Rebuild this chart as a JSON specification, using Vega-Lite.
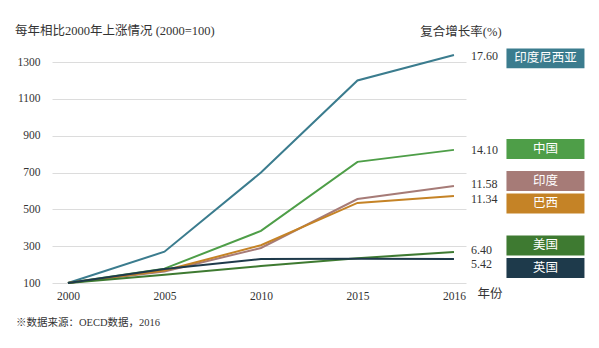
{
  "$schema": "https://vega.github.io/schema/vega-lite/v6.json",
  "width": 414,
  "height": 232,
  "autosize": "none",
  "padding": {"left": 52, "top": 51, "right": 133, "bottom": 65},
  "background": "white",
  "config": {
    "view": {"stroke": null},
    "font": "Liberation Serif, Noto Sans CJK SC",
    "text": {"font": "Liberation Serif, Noto Sans CJK SC"}
  },
  "title": {
    "text": "每年相比2000年上涨情况 (2000=100)",
    "anchor": "start",
    "frame": "group",
    "dx": -37,
    "offset": -11,
    "fontSize": 12.5,
    "fontWeight": "normal",
    "color": "#333333",
    "font": "Liberation Serif, Noto Sans CJK SC"
  },
  "datasets": {
    "series": [
      {"country": "印度尼西亚", "year": 2000, "index": 100},
      {"country": "印度尼西亚", "year": 2005, "index": 270},
      {"country": "印度尼西亚", "year": 2010, "index": 700},
      {"country": "印度尼西亚", "year": 2015, "index": 1200},
      {"country": "印度尼西亚", "year": 2016, "index": 1338},
      {"country": "中国", "year": 2000, "index": 100},
      {"country": "中国", "year": 2005, "index": 178},
      {"country": "中国", "year": 2010, "index": 383},
      {"country": "中国", "year": 2015, "index": 758},
      {"country": "中国", "year": 2016, "index": 823},
      {"country": "印度", "year": 2000, "index": 100},
      {"country": "印度", "year": 2005, "index": 163},
      {"country": "印度", "year": 2010, "index": 290},
      {"country": "印度", "year": 2015, "index": 556},
      {"country": "印度", "year": 2016, "index": 627},
      {"country": "巴西", "year": 2000, "index": 100},
      {"country": "巴西", "year": 2005, "index": 168},
      {"country": "巴西", "year": 2010, "index": 305},
      {"country": "巴西", "year": 2015, "index": 535},
      {"country": "巴西", "year": 2016, "index": 573},
      {"country": "美国", "year": 2000, "index": 100},
      {"country": "美国", "year": 2005, "index": 145},
      {"country": "美国", "year": 2010, "index": 192},
      {"country": "美国", "year": 2015, "index": 235},
      {"country": "美国", "year": 2016, "index": 268},
      {"country": "英国", "year": 2000, "index": 100},
      {"country": "英国", "year": 2005, "index": 176},
      {"country": "英国", "year": 2010, "index": 230},
      {"country": "英国", "year": 2015, "index": 232},
      {"country": "英国", "year": 2016, "index": 230}
    ],
    "rates": [
      {"country": "印度尼西亚", "rate": "17.60", "rateAt": 1331, "boxAt": 1320},
      {"country": "中国", "rate": "14.10", "rateAt": 823, "boxAt": 828},
      {"country": "印度", "rate": "11.58", "rateAt": 638, "boxAt": 654},
      {"country": "巴西", "rate": "11.34", "rateAt": 557, "boxAt": 532},
      {"country": "美国", "rate": "6.40", "rateAt": 279, "boxAt": 304},
      {"country": "英国", "rate": "5.42", "rateAt": 203, "boxAt": 182}
    ]
  },
  "encoding": {
    "x": {
      "type": "ordinal",
      "scale": {"type": "point", "domain": [2000, 2005, 2010, 2015, 2016], "padding": 0.145, "align": 0.57},
      "axis": {
        "title": "年份",
        "titleX": 425,
        "titleY": 10,
        "titleAlign": "left",
        "titleBaseline": "middle",
        "titleFontSize": 12.5,
        "titleFontWeight": "normal",
        "titleColor": "#333333",
        "titleFont": "Liberation Serif, Noto Sans CJK SC",
        "labelAngle": 0,
        "labelFontSize": 11.5,
        "labelColor": "#333333",
        "labelFont": "Liberation Serif",
        "labelPadding": 7,
        "domain": false,
        "ticks": false,
        "grid": false
      }
    },
    "y": {
      "type": "quantitative",
      "scale": {"domain": [100, 1360], "nice": false, "zero": false},
      "axis": {
        "title": null,
        "format": "d",
        "values": [100, 300, 500, 700, 900, 1100, 1300],
        "labelFontSize": 11.5,
        "labelColor": "#333333",
        "labelFont": "Liberation Serif",
        "labelPadding": 12,
        "domain": false,
        "ticks": false,
        "grid": true,
        "gridColor": "#dcdcdc",
        "gridWidth": 1
      }
    }
  },
  "layer": [
    {
      "data": {"name": "series"},
      "mark": {"type": "line", "strokeWidth": 2},
      "encoding": {
        "x": {"field": "year", "type": "ordinal"},
        "y": {"field": "index", "type": "quantitative"},
        "color": {
          "field": "country",
          "type": "nominal",
          "scale": {
            "domain": ["印度尼西亚", "中国", "印度", "巴西", "美国", "英国"],
            "range": ["#3b7c8e", "#4e9e48", "#a67b77", "#c58326", "#3e7a31", "#1e3a4b"]
          },
          "legend": null
        },
        "order": {"value": 0}
      }
    },
    {
      "data": {"name": "rates"},
      "mark": {"type": "text", "align": "left", "baseline": "middle", "dx": 17, "fontSize": 12, "color": "#333333", "font": "Liberation Serif"},
      "encoding": {
        "x": {"datum": 2016, "type": "ordinal"},
        "y": {"field": "rateAt", "type": "quantitative"},
        "text": {"field": "rate"}
      }
    },
    {
      "data": {"name": "rates"},
      "mark": {"type": "point", "filled": true, "opacity": 1, "strokeWidth": 0, "shape": "M-1,-0.256H1V0.256H-1Z", "size": 6084, "xOffset": 91.5},
      "encoding": {
        "x": {"datum": 2016, "type": "ordinal"},
        "y": {"field": "boxAt", "type": "quantitative"},
        "color": {"field": "country", "type": "nominal", "legend": null}
      }
    },
    {
      "data": {"name": "rates"},
      "mark": {"type": "text", "align": "center", "baseline": "middle", "dx": 91.5, "fontSize": 12.5, "color": "#ffffff", "font": "Noto Sans CJK SC"},
      "encoding": {
        "x": {"datum": 2016, "type": "ordinal"},
        "y": {"field": "boxAt", "type": "quantitative"},
        "text": {"field": "country"}
      }
    },
    {
      "data": {"values": [{"label": "复合增长率(%)"}]},
      "mark": {"type": "text", "align": "center", "baseline": "middle", "dx": 7, "dy": -19, "fontSize": 12.5, "color": "#333333", "font": "Liberation Serif, Noto Sans CJK SC"},
      "encoding": {
        "x": {"datum": 2016, "type": "ordinal"},
        "y": {"datum": 1360, "type": "quantitative"},
        "text": {"field": "label"}
      }
    },
    {
      "data": {"values": [{"label": "※数据来源：OECD数据，2016"}]},
      "mark": {"type": "text", "align": "left", "baseline": "middle", "dx": -52, "dy": 40, "fontSize": 10.5, "color": "#333333", "font": "Liberation Serif, Noto Sans CJK SC"},
      "encoding": {
        "x": {"datum": 2000, "type": "ordinal"},
        "y": {"datum": 100, "type": "quantitative"},
        "text": {"field": "label"}
      }
    }
  ]
}
